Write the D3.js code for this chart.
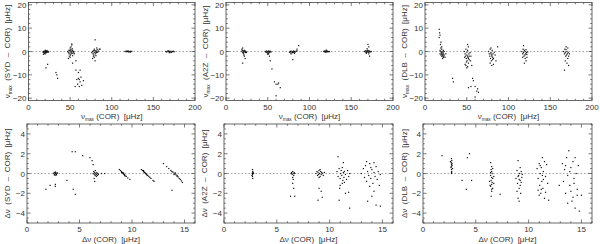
<!DOCTYPE html>
<html lang="en">
<head>
<meta charset="utf-8">
<script src="https://cdn.jsdelivr.net/npm/d3@7"></script>
<style>
html, body { margin: 0; padding: 0; background: #fff; }
svg { display: block; font-family: "Liberation Sans", Arial, sans-serif; }
.tick-label { font-size: 8px; fill: #333; }
.title { font-size: 8px; fill: #333; white-space: pre; }
.frame { fill: none; stroke: #444; stroke-width: 0.8; }
.tk { stroke: #444; stroke-width: 0.7; }
.zero { stroke: #888; stroke-width: 0.8; stroke-dasharray: 1.5,2; }
.dot { fill: #111; }
</style>
</head>
<body>
<svg id="chart" width="600" height="244"></svg>
<script>
// axis tick values
var numaxTicks = [0, 50, 100, 150, 200];
var numaxDiffTicks = [-20, -10, 0, 10, 20];
var dnuTicks = [0, 5, 10, 15];
var dnuDiffTicks = [-4, -2, 0, 2, 4];

// nu_max differences vs COR  [x = numax(COR), y = numax(pipe) - numax(COR)]
var numaxSYD = [
  [17.5,-0.3],[18,0],[18.5,-0.5],[19,0.2],[19.5,-0.2],[20,0],[20.5,-0.4],[21,0.1],[21.5,-0.2],[22,0],[22.5,-0.3],[23,0.1],[23.5,-0.1],[19,-0.8],[20,-1],[21,-0.6],[22,0.4],[24,-0.2],[18,-1.2],[20.5,0.5],[23,-5.5],[21,-7],
  [47,0],[48,-0.5],[48.5,0.5],[49,-1],[49.5,0.3],[50,-0.2],[50.5,-1.5],[51,0.8],[51.5,-0.3],[52,0.2],[52.5,-0.8],[53,0.5],[53.5,-0.2],[54,0],[54.5,-0.6],[50,1.5],[51,2],[52,2.8],[52,3.2],[49,-2],[50,-2.5],[48,-3],[53,-1.8],[55,-1],[51,-1],[50,0.6],[52.5,1.2],[57,-4],[53,-5],
  [33,-9],[34,-10],[35,-11.5],[57,-8],[60,-9],[62,-8],[58,-12],[60,-11.5],[61,-12],[63,-11],[59,-14],[61,-15],[64,-14.5],[66,-12.5],[56,-15],[62,-13],
  [76,-0.5],[77,0],[77.5,-1],[78,0.3],[78.5,-1.5],[79,-0.5],[79.5,0.5],[80,-0.2],[80.5,-1],[81,0.3],[81.5,-0.5],[82,0],[82.5,0.8],[83,-0.3],[84,0.2],[85,1],[86,1],[80,5],[82,1.5],[77,-3],[79,-2.5],[80,-4],[78,-2],[81,-1.8],[79,1],
  [116,0],[117,0.1],[118,-0.1],[119,0],[120,0.2],[121,-0.1],[122,0],[123,0.1],[118.5,0.2],[120.5,-0.2],[122.5,-0.2],[124,0],
  [165,0],[166,-0.2],[167,0.2],[168,-0.1],[169,0],[170,-0.3],[171,0.1],[172,-0.2],[173,0],[174,0.1],[168.5,0.3],[171.5,-0.4],[169.5,-0.5],[175,-0.1]
];
var numaxA2Z = [
  [19,0],[19.5,0.5],[20,-0.5],[20.5,0.3],[21,-0.3],[21.5,0],[22,0.5],[22.5,-0.2],[23,0.2],[23.5,-0.4],[24,0],[20,1.5],[19,1],[21,-1],[22,-2],[23,-3],[20,-5],[21.5,-1.5],[24.5,-0.5],
  [47,0],[48,-0.3],[48.5,0.2],[49,-0.5],[49.5,0],[50,-0.7],[50.5,-0.2],[51,0.2],[51.5,-0.5],[52,0],[52.5,-0.3],[53,0.1],[54,-0.2],[51,-1],[50,-1.2],[53,-4],[52,-2],
  [55,-7.5],[58,-13],[60,-14],[62,-14],[65,-15.5],[60,-19],[63,-13.5],
  [76,-0.3],[77,0],[77.5,-0.6],[78,0.2],[79,-0.2],[79.5,-0.5],[80,0],[80.5,-0.3],[81,0.2],[81.5,-0.4],[82,0],[83,-0.2],[84,0.1],[85,0.3],[85,1],[87,2.5],[80,-3.5],[78,-1],[82,-0.8],
  [117,0],[118,0.2],[118.5,-0.2],[119,0.1],[120,0],[120.5,0.3],[121,-0.2],[121.5,0.1],[122,0],[123,-0.1],[119.5,-0.3],[120,0.6],[124,0],
  [166,0],[167,0.3],[167.5,-0.3],[168,0.2],[168.5,-0.5],[169,0],[169.5,0.5],[170,-0.2],[170.5,0.3],[171,-0.4],[171.5,0],[172,0.2],[173,-0.2],[174,0],[170,3],[171,2],[172,-2],[169,1.2],[171,-1],[168,-0.8]
];
var numaxDLB = [
  [17,9.5],[17.5,8],[18,7],[17,6],[19,4],[18.5,3],[20,2],[19,1.5],[20,1],[18,0.5],[19,0],[19.5,-0.5],[20,-1],[20.5,0],[21,-1.5],[21.5,-0.5],[22,-1],[22.5,-2],[23,-1.5],[24,-2.5],[20,-2],[21,-3],[22,0.5],[23,0],[18,-1],[20.5,-1.2],[21.5,-2],[19,-1.5],[22,-2.5],[25,-1],
  [47,0],[48,-1],[48.5,-2],[49,1],[49.5,-3],[50,-1.5],[50.5,-4],[51,0.5],[51.5,-2.5],[52,-5],[52.5,-1],[53,-3.5],[54,-0.5],[48,-5.5],[49,-6],[50,-7],[51,-6.5],[52,2],[51,3],[50,-0.3],[53,-2],[49.5,-4.5],[47.5,-2.5],[54.5,-4],[55,-2],[56,-6],[51,-2],[52,-3],
  [33,-11.5],[34,-13],[57,-11.5],[58,-12.5],[52,-15.5],[55,-15],[60,-15],[62,-17],[64,-17.5],[60,-19.5],[63,-16],
  [76,0],[77,-1],[77.5,-2],[78,1],[78.5,-3],[79,-0.5],[79.5,-4],[80,-1.5],[80.5,0.5],[81,-2.5],[81.5,-1],[82,-3],[83,-0.3],[84,-1.5],[78,-5],[80,-6],[82,-5.5],[85,-4],[87,2],[79,1.5],[81,-3.5],[79,-1],[80,-2],
  [116,0],[117,-1],[117.5,1],[118,-0.5],[118.5,-2],[119,0.5],[119.5,-1.5],[120,0],[120.5,-1],[121,0.8],[121.5,-0.5],[122,-1.3],[123,-0.2],[118,2.5],[120,-3],[119,-5],[121,-4],[117,-2.5],[122,-2.5],
  [166,0],[167,-1],[167.5,1],[168,-0.5],[168.5,-2],[169,0.8],[169.5,-1.5],[170,0],[170.5,-1],[171,1.5],[171.5,-0.5],[172,-2],[173,-1],[168,-4],[170,-5],[167,-8],[171,-3],[169,2],[172,-6]
];

// delta nu differences vs COR
var dnuSYD = [
  [2.55,0],[2.6,0.1],[2.65,-0.1],[2.7,0],[2.75,0.1],[2.8,-0.1],[2.85,0],[2.9,0.05],[2.7,0.15],[2.6,-0.15],[2.75,-0.2],
  [1.8,-1.6],[2.2,-1.2],[2.7,-1.3],[2.7,-1.1],[3.8,-0.7],[4.3,2.2],[4.6,2.2],[5.3,1.8],[6.0,1.6],[6.2,1.3],[6.3,0.9],[4.4,-1.6],[4.6,-2.1],[7.1,0],[7.4,0],
  [6.3,0],[6.35,0.2],[6.4,-0.1],[6.45,0.1],[6.5,-0.2],[6.55,0],[6.6,-0.1],[6.65,0.1],[6.7,-0.2],[6.75,0],[6.5,0.3],[6.6,-0.3],[6.4,-0.5],[6.45,-0.8],[6.8,-0.1],
  [8.8,0.4],[8.9,0.3],[9.0,0.2],[9.05,0.1],[9.1,0.05],[9.15,0],[9.2,-0.05],[9.25,-0.1],[9.3,-0.15],[9.35,-0.25],[9.45,-0.3],[9.6,-0.45],[9.8,-0.6],[9.0,0.1],[9.2,0.05],[9.3,-0.2],
  [10.9,0.4],[11.0,0.3],[11.1,0.2],[11.15,0.15],[11.2,0.1],[11.3,0],[11.35,-0.05],[11.4,-0.1],[11.5,-0.2],[11.6,-0.3],[11.7,-0.4],[11.8,-0.5],[12.0,-0.7],[12.1,-0.8],[11.25,0.05],[11.45,-0.2],[11.1,0.3],
  [13.0,1.0],[13.3,0.7],[13.5,0.5],[13.7,0.3],[13.8,0.2],[13.9,0.15],[14.0,0.05],[14.1,-0.05],[14.2,-0.15],[14.3,-0.2],[14.4,-0.35],[14.5,-0.5],[14.6,-0.6],[14.8,-0.9],[14.0,-0.1],[14.15,0.05],[13.8,-1.7],[14.3,-0.3],[14.7,-0.75]
];
var dnuA2Z = [
  [2.7,0.4],[2.72,0.2],[2.68,0],[2.7,-0.1],[2.75,0.1],[2.65,-0.2],[2.7,-0.3],[2.72,-0.5],[2.7,0.05],[2.8,0],
  [6.35,0],[6.4,0.1],[6.45,-0.1],[6.5,0.2],[6.55,0],[6.6,-0.2],[6.65,0.1],[6.7,0],[6.5,-0.4],[6.5,-1],[6.6,-1.5],[6.7,-2.3],[6.3,-2.3],[6.55,-0.6],
  [8.7,0],[8.8,0.2],[8.85,-0.2],[8.9,0.1],[8.95,-0.1],[9.0,0.3],[9.05,0],[9.1,-0.3],[9.15,0.2],[9.2,-0.1],[9.25,0.1],[9.3,0],[9.4,-0.2],[9.5,0.1],[9.0,-0.4],[8.9,-2.7],[9.3,-2.4],[9.0,-1.5],[9.2,-1.8],[9.1,0.4],
  [10.7,0.2],[10.8,-0.3],[10.9,0.5],[11.0,-0.5],[11.05,0],[11.1,0.3],[11.15,-0.2],[11.2,0.6],[11.25,-0.7],[11.3,0.1],[11.35,-0.4],[11.4,0.2],[11.5,-0.1],[11.6,-0.6],[11.7,0.3],[11.8,-0.3],[11.9,0],[10.8,1.7],[11.3,1.1],[11.0,-1.2],[11.2,-1],[10.9,-2.7],[11.5,-2],[11.8,-1.9],[11.9,-3.5],[11.4,-0.9],[10.95,-1.5],
  [13.0,0],[13.2,0.5],[13.3,-0.4],[13.4,0.8],[13.5,-0.8],[13.6,0.2],[13.7,-0.2],[13.8,1.0],[13.9,-0.5],[14.0,0.4],[14.1,-1.0],[14.2,0.1],[14.3,-0.3],[14.4,0.7],[14.5,-0.6],[14.6,0.2],[14.8,-0.1],[13.5,1.2],[14.2,1.1],[13.6,-2.8],[14.4,-3.2],[14.8,-3.3],[14.2,-1.8],[14.0,-2.3],[13.8,-1.3],[14.7,-1.2],[13.9,0.6]
];
var dnuDLB = [
  [2.7,1.5],[2.72,1.3],[2.68,1.1],[2.7,0.9],[2.75,0.8],[2.65,0.6],[2.7,0.4],[2.72,0.2],[2.7,0],[2.75,1.0],[2.68,0.7],[2.8,0.5],[2.6,1.2],[2.7,0.1],
  [1.8,1.8],[4.2,1.6],[4.4,2.0],[4.1,-1.6],[3.7,-0.7],[4.6,-0.7],[7.3,-2.1],
  [6.4,1.1],[6.5,0.7],[6.45,0.4],[6.5,0.2],[6.55,0],[6.4,-0.2],[6.5,-0.4],[6.6,-0.5],[6.45,-0.7],[6.55,-0.9],[6.5,-1.1],[6.4,-1.3],[6.6,-1.5],[6.5,-1.8],[6.45,-2.3],[6.7,-0.3],[6.3,-0.8],[6.6,0.5],[6.5,-1.6],[6.4,0.1],[6.35,-1.2],[6.7,-1],
  [8.8,-0.5],[8.9,0.3],[8.95,-1],[9.0,1.3],[9.05,-0.2],[9.1,-1.5],[9.15,0],[9.2,-0.7],[9.25,-2],[9.3,0.2],[9.35,-0.4],[9.0,-2.5],[9.1,-2.8],[9.2,-1.2],[9.3,-0.9],[8.9,-1.8],[9.4,-0.1],[9.0,-0.3],[9.2,0.6],[9.1,-0.6],
  [10.8,0.5],[10.9,-0.5],[11.0,1.0],[11.05,-1.2],[11.1,0],[11.15,-2],[11.2,0.6],[11.25,-0.8],[11.3,1.6],[11.35,-1.5],[11.4,0.2],[11.5,-2.5],[11.6,-0.3],[11.7,0.9],[11.8,-1],[11.9,-2.7],[11.0,-2.2],[11.3,-0.2],[11.5,1.2],[11.2,-1.6],[10.9,-1.7],[11.6,-1.9],[11.4,-0.6],[11.1,0.8],
  [13.2,1.0],[13.3,-0.8],[13.4,0.4],[13.5,-2],[13.6,1.6],[13.7,-0.2],[13.8,2.3],[13.9,-1.2],[14.0,0.6],[14.1,-2.8],[14.2,1.2],[14.3,-0.5],[14.4,-3.5],[14.5,0],[14.6,-1.6],[14.7,0.8],[14.8,-3.8],[13.5,0.8],[14.0,-1.8],[14.2,-2.4],[13.7,-3],[14.4,1.6],[14.6,-2.2],[13.9,0.2],[14.3,-1],[15,-2.2],[12.9,-1.2]
];

// panel layout (frame edges in px, yt = x of the rotated title)
var panels = [
  {data: numaxSYD, pipe: "SYD", kind: "numax", l: 28.5, r: 195, t: 2.5, b: 100.5, yt: 7},
  {data: numaxA2Z, pipe: "A2Z", kind: "numax", l: 226, r: 393, t: 2.5, b: 100.5, yt: 205},
  {data: numaxDLB, pipe: "DLB", kind: "numax", l: 425, r: 592, t: 2.5, b: 100.5, yt: 404},
  {data: dnuSYD, pipe: "SYD", kind: "dnu", l: 27, r: 195, t: 124, b: 223, yt: 7},
  {data: dnuA2Z, pipe: "A2Z", kind: "dnu", l: 224, r: 393, t: 124, b: 223, yt: 204},
  {data: dnuDLB, pipe: "DLB", kind: "dnu", l: 423, r: 592, t: 124, b: 223, yt: 404}
];

var kinds = {
  numax: {xd: [0, 200], yd: [-21, 21], xt: numaxTicks, yt: numaxDiffTicks, xm: 10, ym: 2, sym: "ν", sub: "max"},
  dnu:   {xd: [0, 16], yd: [-5, 5], xt: dnuTicks, yt: dnuDiffTicks, xm: 1, ym: 0.5, sym: "Δν", sub: ""}
};

var svg = d3.select("#chart");

// symbol (+ subscript) followed by the rest of the title
function label(sel, k, rest) {
  sel.append("tspan").text(k.sym);
  if (k.sub) {
    sel.append("tspan").attr("dy", 2).style("font-size", "4.8px").text(k.sub);
    sel.append("tspan").attr("dy", -2).text(" " + rest);
  } else {
    sel.append("tspan").text(" " + rest);
  }
}

panels.forEach(function(p) {
  var k = kinds[p.kind];
  var x = d3.scaleLinear().domain(k.xd).range([p.l, p.r]);
  var y = d3.scaleLinear().domain(k.yd).range([p.b, p.t]);
  var g = svg.append("g");

  // dotted zero line
  g.append("line").attr("class", "zero")
    .attr("x1", p.l).attr("x2", p.r).attr("y1", y(0)).attr("y2", y(0));

  // minor + major ticks on all four sides, pointing inward
  var xMin = d3.range(k.xd[0], k.xd[1] + 1e-9, k.xm);
  var yMin = d3.range(Math.ceil(k.yd[0] / k.ym) * k.ym, k.yd[1] + 1e-9, k.ym);
  xMin.forEach(function(v) {
    var major = k.xt.some(function(t) { return Math.abs(t - v) < 1e-6; });
    var len = major ? 3.5 : 1.8;
    g.append("line").attr("class", "tk").attr("x1", x(v)).attr("x2", x(v)).attr("y1", p.b).attr("y2", p.b - len);
    g.append("line").attr("class", "tk").attr("x1", x(v)).attr("x2", x(v)).attr("y1", p.t).attr("y2", p.t + len);
  });
  yMin.forEach(function(v) {
    var major = k.yt.some(function(t) { return Math.abs(t - v) < 1e-6; });
    var len = major ? 3.5 : 1.8;
    g.append("line").attr("class", "tk").attr("y1", y(v)).attr("y2", y(v)).attr("x1", p.l).attr("x2", p.l + len);
    g.append("line").attr("class", "tk").attr("y1", y(v)).attr("y2", y(v)).attr("x1", p.r).attr("x2", p.r - len);
  });

  g.append("rect").attr("class", "frame")
    .attr("x", p.l).attr("y", p.t).attr("width", p.r - p.l).attr("height", p.b - p.t);

  // tick labels
  g.selectAll(".xl").data(k.xt).enter().append("text")
    .attr("class", "tick-label").attr("text-anchor", "middle")
    .attr("x", function(d) { return x(d); }).attr("y", p.b + 9)
    .text(function(d) { return d; });
  g.selectAll(".yl").data(k.yt).enter().append("text")
    .attr("class", "tick-label").attr("text-anchor", "end")
    .attr("x", p.l - 2).attr("y", function(d) { return y(d) + 3; })
    .text(function(d) { return d < 0 ? "\u2212" + (-d) : d; });

  // axis titles
  var xt = g.append("text").attr("class", "title").attr("text-anchor", "middle")
    .attr("x", (p.l + p.r) / 2).attr("y", p.b + 18.5);
  label(xt, k, "(COR)  [\u03bcHz]");
  var yt = g.append("text").attr("class", "title").attr("text-anchor", "middle")
    .attr("transform", "translate(" + (p.yt + 2.5) + "," + ((p.t + p.b) / 2) + ") rotate(-90)");
  label(yt, k, " (" + p.pipe + "  \u2013  COR)  [\u03bcHz]");

  // points
  g.selectAll(".dot").data(p.data).enter().append("rect")
    .attr("class", "dot")
    .attr("x", function(d) { return x(d[0]) - 0.6; })
    .attr("y", function(d) { return y(d[1]) - 0.6; })
    .attr("width", 1.2).attr("height", 1.2);
});
</script>
</body>
</html>
